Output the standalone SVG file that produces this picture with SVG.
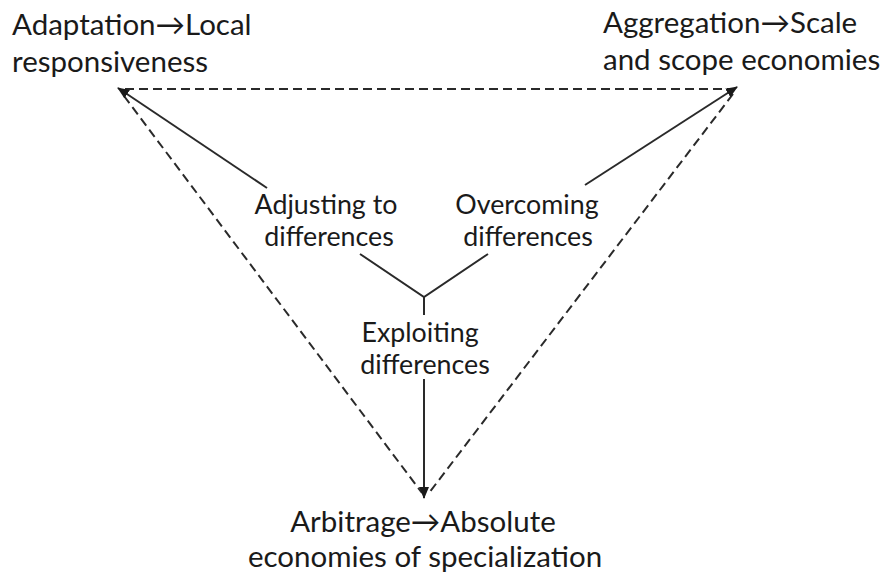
<svg xmlns="http://www.w3.org/2000/svg" width="882" height="578" viewBox="0 0 882 578">
<style>
text{font-family:"Lato","Open Sans","DejaVu Sans",sans-serif;fill:#1a1a1a}
.k{font-size:29.5px}
.m{font-size:26.8px}
.c{text-anchor:middle}
.d{stroke:#2a2a2a;stroke-width:2;stroke-dasharray:9,5;fill:none}
.s{stroke:#2a2a2a;stroke-width:2;fill:none}
</style>
<defs>
<marker id="ah" viewBox="0 0 12 10" refX="11" refY="5" markerWidth="12" markerHeight="10" markerUnits="userSpaceOnUse" orient="auto">
<path d="M0,0 L12,5 L0,10 z" fill="#1a1a1a"/>
</marker>
</defs>
<rect width="882" height="578" fill="#fff"/>
<g id="connectors">
<line class="d" x1="125" y1="89" x2="735" y2="89"/>
<line class="d" x1="124" y1="96" x2="422" y2="493"/>
<line class="d" x1="733" y1="94" x2="429" y2="493"/>
<line class="s" x1="267" y1="188" x2="118" y2="88" marker-end="url(#ah)"/>
<line class="s" x1="585" y1="185" x2="737" y2="87" marker-end="url(#ah)"/>
<polyline class="s" points="360,254 424,297 488,254"/>
<line class="s" x1="424" y1="297" x2="424" y2="315"/>
<line class="s" x1="424" y1="379" x2="424" y2="498" marker-end="url(#ah)"/>
</g>
<g id="adaptation" class="k">
<text x="12" y="35">Adaptation→Local</text>
<text x="12" y="72">responsiveness</text>
</g>
<g id="aggregation" class="k">
<text x="603" y="33">Aggregation→Scale</text>
<text x="603" y="70">and scope economies</text>
</g>
<g id="arbitrage" class="k">
<text class="c" x="423" y="532">Arbitrage→Absolute</text>
<text class="c" x="425" y="567">economies of specialization</text>
</g>
<g id="adjusting" class="m">
<text class="c" x="326" y="214">Adjusting to</text>
<text class="c" x="329" y="246">differences</text>
</g>
<g id="overcoming" class="m">
<text class="c" x="527" y="214">Overcoming</text>
<text class="c" x="528" y="246">differences</text>
</g>
<g id="exploiting" class="m">
<text class="c" x="420" y="342">Exploiting</text>
<text class="c" x="425" y="374">differences</text>
</g>
</svg>
